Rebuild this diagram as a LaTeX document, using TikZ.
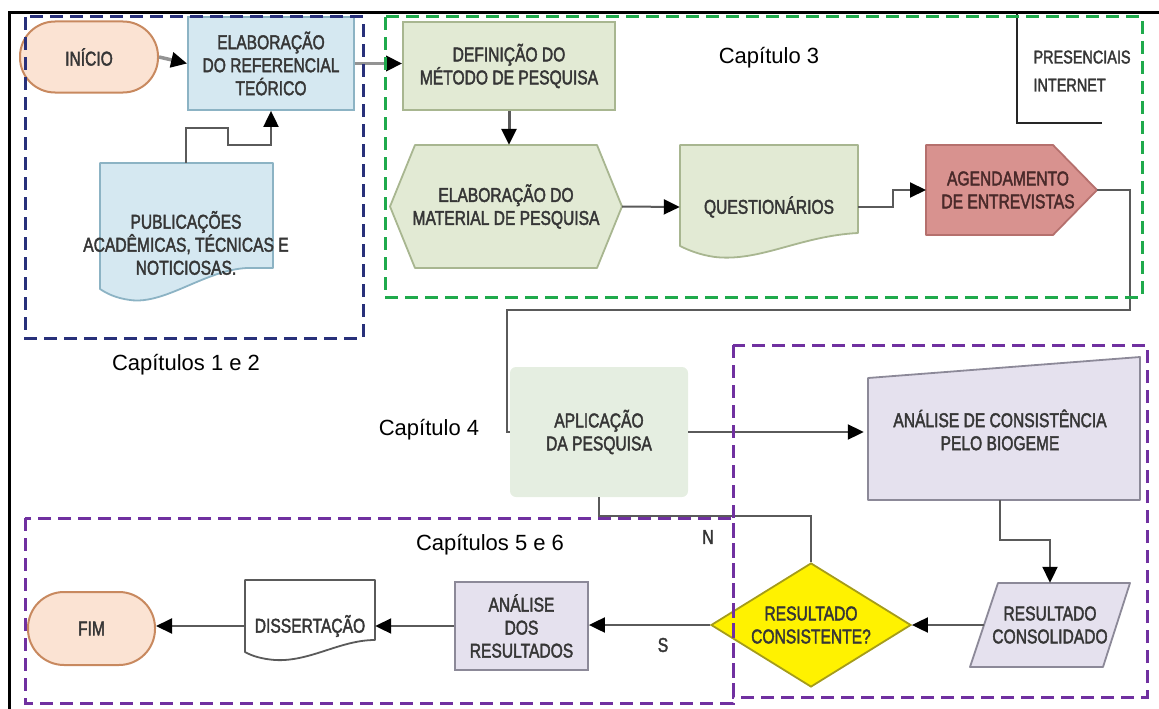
\documentclass[tikz,border=0pt]{standalone}
\usepackage{fontspec}
\setmainfont{Liberation Sans}
\newfontfamily\narrowsf[FakeStretch=0.78,FakeBold=2]{Liberation Sans}
\usetikzlibrary{arrows.meta,shapes.geometric,backgrounds,calc}

\definecolor{txtgray}{HTML}{363636}
\definecolor{linegray}{HTML}{5A5A5A}
\definecolor{peach}{HTML}{FBE3D3}
\definecolor{peachdk}{HTML}{C8895F}
\definecolor{lblue}{HTML}{D5E8F1}
\definecolor{lbluedk}{HTML}{8CB3C4}
\definecolor{lgreen}{HTML}{E2EAD4}
\definecolor{lgreendk}{HTML}{A8B690}
\definecolor{palegreen}{HTML}{E5EEE1}
\definecolor{salmon}{HTML}{D8928F}
\definecolor{salmondk}{HTML}{B5706D}
\definecolor{lavender}{HTML}{E5E1EE}
\definecolor{lavenderdk}{HTML}{8C8998}
\definecolor{olive}{HTML}{A59C1A}
\definecolor{navy}{HTML}{28307A}
\definecolor{chapgreen}{HTML}{1FAA4C}
\definecolor{chappurple}{HTML}{7030A0}
\definecolor{darkred}{HTML}{4A2A2A}

\tikzset{
  boxtext/.style={font=\narrowsf\fontsize{20}{23}\selectfont, text=txtgray, align=center},
  procbox/.style={boxtext, rectangle, draw, line width=1.8pt, inner sep=0pt},
  holder/.style={boxtext, rectangle, inner sep=0pt},
  terminal/.style={procbox, fill=peach, draw=peachdk, line width=2pt},
  conn/.style={draw=linegray, line width=2pt},
  thickconn/.style={draw=gray!85, line width=3.5pt},
  arr/.style={-{Triangle[length=16pt,width=15pt,color=black,fill=black]}},
  shapeline/.style={line width=1.8pt, line join=round},
  dashbox/.style={line width=3pt, dash pattern=on 13pt off 7pt},
  chaptext/.style={font=\fontsize{22}{26}\selectfont, text=black},
}

\begin{document}
\begin{tikzpicture}[x=1pt,y=-1pt]
\useasboundingbox (0,0) rectangle (1159,709);

% ---------- nodes ----------
\node[terminal, minimum width=138pt, minimum height=71pt, rounded corners=35pt] (inicio) at (89,57) {INÍCIO};
\node[procbox, fill=lblue, draw=lbluedk, minimum width=166pt, minimum height=93pt] (elab) at (271,63.5) {ELABORAÇÃO\\DO REFERENCIAL\\TEÓRICO};
\node[holder, minimum width=173pt, minimum height=160pt] (pub) at (186,243) {PUBLICAÇÕES\\ACADÊMICAS, TÉCNICAS E\\NOTICIOSAS.};

\node[procbox, fill=lgreen, draw=lgreendk, minimum width=212pt, minimum height=88pt] (def) at (509,66) {DEFINIÇÃO DO\\MÉTODO DE PESQUISA};
\node[holder, minimum width=232pt, minimum height=123pt] (hex) at (506,206.5) {ELABORAÇÃO DO\\MATERIAL DE PESQUISA};
\node[holder, minimum width=178pt, minimum height=124pt] (quest) at (769,207) {QUESTIONÁRIOS};
\node[holder, minimum width=171pt, minimum height=90pt, text=darkred] (agend) at (1008,190) {AGENDAMENTO\\DE ENTREVISTAS};

\node[holder, fill=palegreen, rounded corners=6pt, minimum width=178pt, minimum height=130pt] (aplic) at (599,432) {APLICAÇÃO\\DA PESQUISA};
\node[holder, minimum width=272pt, minimum height=140pt] (analise) at (1000,430) {ANÁLISE DE CONSISTÊNCIA\\PELO BIOGEME};
\node[holder, minimum width=160pt, minimum height=84pt] (consol) at (1050,625) {RESULTADO\\CONSOLIDADO};
\node[boxtext, diamond, aspect=1.6, inner sep=0pt, minimum width=200pt, minimum height=124pt, fill=yellow, draw=olive, line width=1.8pt] (diam) at (811,625) {RESULTADO\\CONSISTENTE?};
\node[procbox, fill=lavender, draw=lavenderdk, minimum width=133pt, minimum height=88pt] (analres) at (521.5,626) {ANÁLISE\\DOS\\RESULTADOS};
\node[holder, minimum width=130pt, minimum height=92pt] (dissert) at (310,626) {DISSERTAÇÃO};
\node[terminal, minimum width=127pt, minimum height=73pt, rounded corners=36pt] (fim) at (91.5,628.5) {FIM};

% ---------- outlines of the irregular shapes ----------
\begin{scope}[on background layer]
  % document: publications
  \draw[shapeline, fill=lblue, draw=lbluedk]
    (100,163) -- (273,163) -- (273,268) -- (247,268)
    .. controls (205,270) and (165,305) .. (130,300)
    .. controls (115,298) and (106,293) .. (100,289) -- cycle;
  % preparation (hexagon)
  \draw[shapeline, fill=lgreen, draw=lgreendk]
    (390,206.5) -- (415,145) -- (597,145) -- (622,206.5) -- (597,268) -- (415,268) -- cycle;
  % document: questionnaires
  \draw[shapeline, fill=lgreen, draw=lgreendk]
    (680,145) -- (858,145) -- (858,233)
    .. controls (800,236) and (760,262) .. (715,257)
    .. controls (700,255) and (688,250) .. (680,246) -- cycle;
  % scheduling (pointed box)
  \draw[shapeline, fill=salmon, draw=salmondk]
    (926,145) -- (1053,145) -- (1097,190) -- (1053,235) -- (926,235) -- cycle;
  % manual input
  \draw[shapeline, fill=lavender, draw=lavenderdk]
    (868,378) -- (1140,357) -- (1140,500) -- (868,500) -- cycle;
  % data (parallelogram)
  \draw[shapeline, fill=lavender, draw=lavenderdk]
    (998,583) -- (1130,583) -- (1103,667) -- (970,667) -- cycle;
  % document: dissertation
  \draw[shapeline, fill=white, draw=linegray]
    (245,580) -- (375,580) -- (375,640)
    .. controls (340,640) and (310,662) .. (275,660)
    .. controls (262,659) and (252,656) .. (245,652) -- cycle;
\end{scope}

% ---------- connectors ----------
\draw[thickconn, arr] (inicio.east) -- (elab.west);
\draw[thickconn, arr] (elab.east) -- (elab.east -| def.west);
\draw[conn, arr] (pub.north) -- ++(0,-35) -- ++(42,0) -- ++(0,17) -| (elab.south);
\draw[conn, line width=3pt, arr] (def.south) -- (def.south |- hex.north);
\draw[conn, arr] (hex.east) -- (quest.west);
\draw[conn, arr] (quest.east) -- ++(35,0) |- (926,190);
\draw[conn] (1097,190) -- (1130,190) -- (1130,310) -- (507,310) |- (aplic.west);
\draw[conn, arr] (aplic.east) -- (aplic.east -| analise.west);
\draw[conn, arr] (analise.south) -- ++(0,40) -| (consol.north);
\draw[conn, arr] ([xshift=14pt]consol.west) -- (diam.east);
\draw[conn] (diam.north) -- ++(0,-46) -| (aplic.south);
\draw[conn, arr] (diam.west) -- (diam.west -| analres.east);
\draw[conn, arr] (analres.west) -- (analres.west -| dissert.east);
\draw[conn, arr] (dissert.west) -- (dissert.west -| fim.east);

% branch labels
\node[boxtext] (labn) at (708,537) {N};
\node[boxtext] (labs) at (663,645) {S};

% annotation bracket
\draw[line width=2pt, draw=black!85] (1017,14) -- (1017,123) -- (1102,123);
\node[boxtext, align=left, anchor=west, font=\narrowsf\fontsize{18.5}{28}\selectfont] (modes) at (1030,71) {PRESENCIAIS\\INTERNET};

% ---------- frame ----------
\draw[line width=3pt] (9,712) -- (9,13) -- (1162,13);

% ---------- chapter groupings ----------
\draw[dashbox, navy] (25,17) rectangle (363,338);
\draw[dashbox, chapgreen] (385,17) rectangle (1142,297);
\draw[dashbox, chappurple] (733,345) rectangle (1147,697);
\draw[dashbox, chappurple] (25,518) rectangle (733,703);

\node[chaptext] (cap12) at (186,365) {Capítulos 1 e 2};
\node[chaptext] (cap3) at (769,58) {Capítulo 3};
\node[chaptext] (cap4) at (429,430) {Capítulo 4};
\node[chaptext] (cap56) at (490,545) {Capítulos 5 e 6};
\end{tikzpicture}
\end{document}
